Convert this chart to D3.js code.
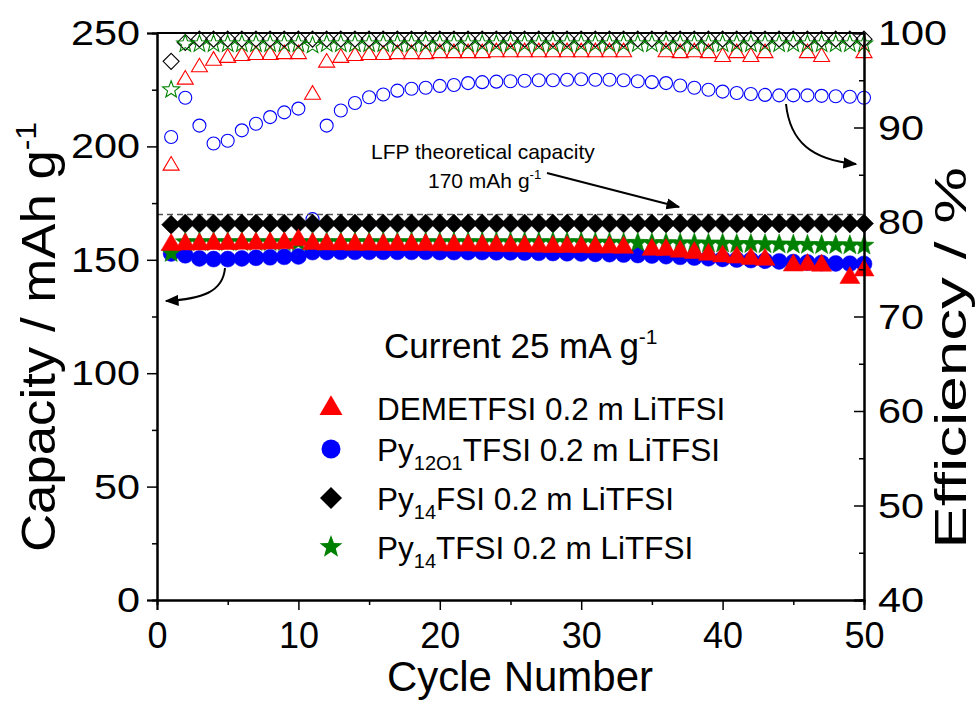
<!DOCTYPE html>
<html>
<head>
<meta charset="utf-8">
<script src="https://cdn.jsdelivr.net/npm/d3@7"></script>
<style>
  body { margin: 0; background: #fff; }
  text { font-family: "Liberation Sans", Arial, sans-serif; fill: #000; }
</style>
</head>
<body>
<div id="chart"></div>
<script>
// cycle numbers 1..50
const cycles = [1,2,3,4,5,6,7,8,9,10,11,12,13,14,15,16,17,18,19,20,21,22,23,24,25,
                26,27,28,29,30,31,32,33,34,35,36,37,38,39,40,41,42,43,44,45,46,47,48,49,50];

// discharge capacity (mAh/g), filled symbols, left axis
const demeCap = [156.8,157.0,157.0,157.2,157.2,157.3,157.3,157.4,157.5,158.8,
                 157.2,157.0,157.0,156.9,156.9,156.8,156.8,156.7,156.7,156.6,
                 156.5,156.5,156.4,156.3,156.2,156.1,156.0,155.9,155.9,155.8,
                 155.7,155.6,155.5,null,154.6,154.5,153.8,153.2,152.4,151.7,
                 151.2,150.6,150.2,null,147.7,147.9,147.6,null,142.2,145.5];
const pyO1Cap = [152.8,152.0,150.6,150.3,150.3,150.6,150.9,151.1,151.3,151.5,
                 153.4,153.4,153.5,153.5,153.5,153.5,153.5,153.5,153.5,153.4,
                 153.4,153.4,153.4,153.3,153.3,153.2,153.1,153.0,152.9,152.8,
                 152.6,152.5,152.3,152.1,151.9,151.6,151.3,151.0,150.7,150.4,
                 150.1,149.9,149.6,149.3,149.0,148.8,148.6,148.4,148.3,148.2];
const py14FSICap = [165.5,166.0,166.0,166.0,166.0,166.0,166.0,166.0,166.0,166.0,
                    166.0,166.0,166.0,166.0,166.0,166.0,166.0,166.0,166.0,166.0,
                    166.0,166.0,166.0,166.0,166.0,166.0,166.0,166.0,166.0,166.0,
                    166.0,166.0,166.0,166.0,166.0,166.0,166.0,166.0,166.0,166.0,
                    166.0,166.0,166.0,166.0,166.0,166.0,166.0,166.0,166.0,166.0];
const py14TFSICap = [153.0,157.8,157.8,157.8,157.8,157.8,157.8,157.8,157.8,157.8,
                     157.8,157.8,157.8,157.8,157.8,157.8,157.8,157.8,157.8,157.8,
                     157.8,157.8,157.8,157.8,157.8,157.8,157.8,157.8,157.8,157.8,
                     157.6,157.6,157.5,157.5,157.4,157.4,157.3,157.3,157.2,157.2,
                     157.0,157.0,156.9,156.8,156.7,156.6,156.5,156.5,156.4,156.3];

// coulombic efficiency (%), open symbols, right axis
const demeEff = [86.0,95.1,96.4,97.1,97.4,97.6,97.7,97.7,97.8,97.8,
                 93.5,96.9,97.4,97.6,97.7,97.7,97.8,97.8,97.8,97.9,
                 97.9,97.9,97.9,98.0,98.0,98.0,98.0,98.0,98.0,98.0,
                 98.0,98.0,98.0,null,null,98.0,97.9,98.0,97.9,97.5,
                 97.9,97.5,97.9,null,null,97.9,97.5,null,null,97.9];
const pyO1Eff = [89.0,93.15,90.2,88.3,88.6,89.7,90.4,91.1,91.6,92.0,
                 80.3,90.2,91.8,92.6,93.2,93.5,93.9,94.1,94.2,94.4,
                 94.5,94.7,94.8,94.85,94.9,94.95,95.0,95.0,95.05,95.1,
                 95.05,95.05,95.0,94.9,94.8,94.7,94.45,94.2,94.0,93.8,
                 93.65,93.55,93.45,93.4,93.4,93.4,93.35,93.3,93.25,93.15];
const py14FSIEff = [97.0,99.0,99.35,99.35,99.35,99.35,99.35,99.35,99.35,99.35,
                    99.35,99.35,99.35,99.35,99.35,99.35,99.35,99.35,99.35,99.35,
                    99.35,99.35,99.35,99.35,99.35,99.35,99.35,99.35,99.35,99.35,
                    99.35,99.35,99.35,99.35,99.35,99.35,99.35,99.35,99.35,99.35,
                    99.35,99.35,99.35,99.35,99.35,99.35,99.35,99.35,99.35,99.35];
const py14TFSIEff = [94.0,98.85,98.85,98.85,98.85,98.85,98.85,98.85,98.85,98.85,
                     98.7,98.85,98.85,98.85,98.85,98.85,98.85,98.85,98.85,98.85,
                     98.85,98.85,98.85,98.85,98.85,98.85,98.85,98.85,98.85,98.85,
                     98.85,98.85,98.85,98.85,98.85,98.85,98.85,98.85,98.85,98.85,
                     98.85,98.85,98.85,98.85,98.85,98.85,98.85,98.85,98.85,98.85];

const xTicks = [0, 10, 20, 30, 40, 50];
const capTicks = [0, 50, 100, 150, 200, 250];
const effTicks = [40, 50, 60, 70, 80, 90, 100];
const lfpCapacity = 170;

// plot box
const W = 977, H = 704;
const margin = { left: 157, right: 864, top: 33, bottom: 600 };

const svg = d3.select("#chart").append("svg")
  .attr("width", W)
  .attr("height", H);

const x = d3.scaleLinear().domain([0, 50]).range([margin.left, margin.right]);
const yCap = d3.scaleLinear().domain([0, 250]).range([margin.bottom, margin.top]);
const yEff = d3.scaleLinear().domain([40, 100]).range([margin.bottom, margin.top]);

// marker paths, centred on (x, y) with size r
const markerShapes = {
  circle: d => `M ${d.x - d.r} ${d.y} a ${d.r} ${d.r} 0 1 0 ${2 * d.r} 0 a ${d.r} ${d.r} 0 1 0 -${2 * d.r} 0`,
  diamond: d => `M${d.x},${d.y - d.r} L${d.x + d.r},${d.y} L${d.x},${d.y + d.r} L${d.x - d.r},${d.y} Z`,
  triangle: d => `M${d.x - d.r},${d.y + d.r * 0.6} L${d.x},${d.y - d.r * 1.1} L${d.x + d.r},${d.y + d.r * 0.6} Z`,
  star: d => {
    let p = "";
    for (let i = 0; i < 10; i++) {
      const rr = i % 2 === 0 ? d.r : d.r * 0.42;
      const a = -Math.PI / 2 + i * Math.PI / 5;
      p += (i === 0 ? "M" : "L") + (d.x + rr * Math.cos(a)).toFixed(2) + "," + (d.y + rr * Math.sin(a)).toFixed(2);
    }
    return p + "Z";
  }
};

const series = [
  { label: "DEMETFSI", cap: demeCap, eff: demeEff, color: "#ff0000", shape: "triangle", rFill: 10, rOpen: 8 },
  { label: "Py12O1TFSI", cap: pyO1Cap, eff: pyO1Eff, color: "#0000ff", shape: "circle", rFill: 8, rOpen: 6.5 },
  { label: "Py14FSI", cap: py14FSICap, eff: py14FSIEff, color: "#000000", shape: "diamond", rFill: 9.5, rOpen: 8 },
  { label: "Py14TFSI", cap: py14TFSICap, eff: py14TFSIEff, color: "#008000", shape: "star", rFill: 10.5, rOpen: 9 }
];

// open symbols: efficiency
const openOrder = [1, 0, 2, 3];
openOrder.forEach(i => {
  const s = series[i];
  svg.append("g").selectAll("path")
    .data(cycles.map((c, k) => ({ c, v: s.eff[k] })).filter(d => d.v !== null))
    .enter().append("path")
    .attr("d", d => markerShapes[s.shape]({ x: x(d.c), y: yEff(d.v), r: s.rOpen }))
    .attr("fill", "none")
    .attr("stroke", s.color)
    .attr("stroke-width", 1.1);
});

// dashed line for LFP theoretical capacity
svg.append("line")
  .attr("x1", margin.left).attr("x2", margin.right)
  .attr("y1", yCap(lfpCapacity)).attr("y2", yCap(lfpCapacity))
  .attr("stroke", "#555")
  .attr("stroke-width", 1.5)
  .attr("stroke-dasharray", "6,4");

// filled symbols: capacity
const fillOrder = [2, 1, 3, 0];
fillOrder.forEach(i => {
  const s = series[i];
  svg.append("g").selectAll("path")
    .data(cycles.map((c, k) => ({ c, v: s.cap[k] })).filter(d => d.v !== null))
    .enter().append("path")
    .attr("d", d => markerShapes[s.shape]({ x: x(d.c), y: yCap(d.v), r: s.rFill }))
    .attr("fill", s.color)
    .attr("stroke", s.color)
    .attr("stroke-width", 0.5);
});

// axes
const axL = svg.append("g").attr("transform", `translate(${margin.left},0)`)
  .call(d3.axisLeft(yCap).tickValues(capTicks).tickSize(10).tickPadding(7));
svg.append("g").attr("transform", `translate(${margin.left},0)`)
  .call(d3.axisLeft(yCap).tickValues([25, 75, 125, 175, 225]).tickSize(5).tickFormat(""));
const axB = svg.append("g").attr("transform", `translate(0,${margin.bottom})`)
  .call(d3.axisBottom(x).tickValues(xTicks).tickSize(10).tickPadding(12));
svg.append("g").attr("transform", `translate(0,${margin.bottom})`)
  .call(d3.axisBottom(x).tickValues([5, 15, 25, 35, 45]).tickSize(5).tickFormat(""));
const axR = svg.append("g").attr("transform", `translate(${margin.right},0)`)
  .call(d3.axisRight(yEff).tickValues(effTicks).tickSize(-10).tickPadding(14));
svg.append("g").attr("transform", `translate(${margin.right},0)`)
  .call(d3.axisRight(yEff).tickValues([45, 55, 65, 75, 85, 95]).tickSize(-5).tickFormat(""));
svg.append("line")
  .attr("x1", margin.left).attr("x2", margin.right).attr("y1", margin.top).attr("y2", margin.top)
  .attr("stroke", "#000").attr("stroke-width", 2);

svg.selectAll(".domain").attr("stroke-width", 2).attr("stroke", "#000");
svg.selectAll(".tick line").attr("stroke-width", 1.5);
[axL, axB, axR].forEach(a => a.selectAll("text")
  .style("font-size", "36px")
  .style("font-family", '"Liberation Sans", Arial, sans-serif'));

// the y tick labels in the original are drawn a bit wider
const labelStretch = 1.15;
axL.selectAll(".tick text")
  .attr("x", -17 / labelStretch)
  .attr("transform", `scale(${labelStretch},1)`);
axR.selectAll(".tick text")
  .attr("x", 14 / labelStretch)
  .attr("transform", `scale(${labelStretch},1)`);

// axis titles
svg.append("text")
  .attr("x", 520).attr("y", 691)
  .attr("text-anchor", "middle")
  .style("font-size", "42px")
  .text("Cycle Number");

const yTitle = svg.append("text")
  .attr("transform", "translate(55,337) rotate(-90) scale(1.1,1)")
  .attr("text-anchor", "middle")
  .style("font-size", "48px");
yTitle.append("tspan").text("Capacity / mAh g");
yTitle.append("tspan").attr("dy", -19).style("font-size", "29px").text("-1");

svg.append("text")
  .attr("transform", "translate(966,358) rotate(-90) scale(1.45,1)")
  .attr("text-anchor", "middle")
  .style("font-size", "44px")
  .text("Efficiency / %");

// annotation: LFP theoretical capacity
svg.append("text")
  .attr("x", 371).attr("y", 159)
  .style("font-size", "21px")
  .text("LFP theoretical capacity");
const lfp = svg.append("text")
  .attr("x", 428).attr("y", 188)
  .style("font-size", "21px");
lfp.append("tspan").text("170 mAh g");
lfp.append("tspan").attr("dy", -9).style("font-size", "13px").text("-1");

svg.append("defs").append("marker")
  .attr("id", "head")
  .attr("viewBox", "0 0 10 10")
  .attr("refX", 9).attr("refY", 5)
  .attr("markerWidth", 7).attr("markerHeight", 7)
  .attr("orient", "auto")
  .append("path")
  .attr("d", "M0,1 L10,5 L0,9 Z")
  .attr("fill", "#000");

svg.append("line")
  .attr("x1", 547).attr("y1", 173).attr("x2", 679).attr("y2", 207)
  .attr("stroke", "#000").attr("stroke-width", 2)
  .attr("marker-end", "url(#head)");

svg.append("path")
  .attr("d", "M225,268 C223,292 202,299 166,301")
  .attr("fill", "none").attr("stroke", "#000").attr("stroke-width", 2)
  .attr("marker-end", "url(#head)");

svg.append("path")
  .attr("d", "M786,104 C790,142 812,160 856,164")
  .attr("fill", "none").attr("stroke", "#000").attr("stroke-width", 2)
  .attr("marker-end", "url(#head)");

// current note
const cur = svg.append("text")
  .attr("x", 384).attr("y", 358)
  .style("font-size", "35px");
cur.append("tspan").text("Current 25 mA g");
cur.append("tspan").attr("dy", -14).style("font-size", "21px").text("-1");

// legend
const legendData = [
  { s: series[0], parts: [["DEMETFSI 0.2 m LiTFSI", 0]] },
  { s: series[1], parts: [["Py", 0], ["12O1", 1], ["TFSI 0.2 m LiTFSI", 0]] },
  { s: series[2], parts: [["Py", 0], ["14", 1], ["FSI 0.2 m LiTFSI", 0]] },
  { s: series[3], parts: [["Py", 0], ["14", 1], ["TFSI 0.2 m LiTFSI", 0]] }
];
const legendY = [408, 449, 498, 547];
const legend = svg.selectAll(".legend")
  .data(legendData)
  .enter().append("g")
  .attr("class", "legend")
  .attr("transform", (d, i) => `translate(0,${legendY[i]})`);

legend.append("path")
  .attr("d", d => markerShapes[d.s.shape]({ x: 331, y: 0, r: d.s.rFill + 1.5 }))
  .attr("fill", d => d.s.color);

legend.append("text")
  .attr("x", 377).attr("y", 12)
  .style("font-size", "31.5px")
  .each(function(d) {
    const t = d3.select(this);
    d.parts.forEach(([str, sub], k) => {
      const prevSub = k > 0 && d.parts[k - 1][1];
      t.append("tspan")
        .attr("dy", sub ? 9 : (prevSub ? -9 : 0))
        .style("font-size", sub ? "20px" : "31.5px")
        .text(str);
    });
  });
</script>
</body>
</html>
